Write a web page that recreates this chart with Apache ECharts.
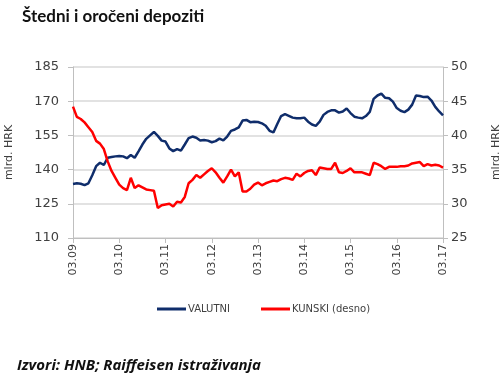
<!DOCTYPE html>
<html>
<head>
<meta charset="utf-8">
<script src="https://cdn.jsdelivr.net/npm/echarts@6/dist/echarts.min.js"></script>
<style>
  html, body { margin: 0; padding: 0; background: #fff; }
  #chart { width: 500px; height: 376px; }
</style>
</head>
<body>
<div id="chart"></div>
<script>
// monthly data, 03.09 - 03.17
var yearLabels = ['09', '10', '11', '12', '13', '14', '15', '16', '17'];

var valutni = [
  133.7, 134, 133.8, 133.2, 134, 137.5, 141.5, 143, 142, 145.2,
  145.5, 145.8, 146, 145.8, 145, 146.4, 145.2, 148, 151, 153.5,
  155, 156.5, 154.8, 152.7, 152.3, 149.3, 148.1, 149, 148.3, 151,
  153.8, 154.5, 154, 152.8, 153, 152.7, 152, 152.5, 153.6, 152.8,
  154.5, 157, 157.6, 158.5, 161.5, 161.8, 160.8, 161, 160.9, 160.3,
  159.2, 157, 156.3, 160, 163.5, 164.3, 163.6, 162.8, 162.5, 162.5,
  162.8, 161, 159.8, 159.2, 161, 164, 165.3, 166, 166, 165,
  165.5, 166.8, 164.8, 163.2, 162.8, 162.5, 163.5, 165.3, 171, 172.5,
  173.3, 171.5, 171.3, 169.8, 167, 165.8, 165.2, 166.3, 168.5, 172.5,
  172.3, 171.8, 172, 170.3, 167.5, 165.5, 163.8
];

var kunski = [
  44.2, 42.7, 42.4, 41.9, 41.2, 40.5, 39.2, 38.8, 38.0, 36.2,
  34.8, 33.8, 32.8, 32.3, 32.0, 33.8, 32.3, 32.7, 32.4, 32.1,
  32.0, 31.9, 29.4, 29.8, 29.9, 30.0, 29.6, 30.3, 30.2, 31.0,
  33.0, 33.5, 34.2, 33.8, 34.3, 34.8, 35.2, 34.6, 33.8, 33.1,
  34.0, 35.0, 34.0, 34.6, 31.8, 31.8, 32.2, 32.8, 33.1, 32.7,
  33.0, 33.2, 33.4, 33.3, 33.6, 33.8, 33.7, 33.5, 34.4, 34.0,
  34.5, 34.8, 34.9, 34.2, 35.3, 35.2, 35.1, 35.1, 36.0, 34.6,
  34.5, 34.8, 35.2, 34.6, 34.6, 34.6, 34.4, 34.2, 36.0, 35.8,
  35.5, 35.1, 35.4, 35.4, 35.4, 35.5, 35.5, 35.6, 35.9, 36.0,
  36.1, 35.5, 35.8, 35.6, 35.7, 35.6, 35.3
];

var months = [];
for (var i = 0; i < valutni.length; ++i) {
  var m = (i + 2) % 12 + 1;
  var y = yearLabels[Math.floor((i + 2) / 12)];
  months.push((m < 10 ? '0' : '') + m + '.' + y);
}

var textColor = '#404040';
var lineGray = '#bfbfbf';
var fontFamily = 'DejaVu Sans';

var chart = echarts.init(document.getElementById('chart'), null, {renderer: 'canvas'});

chart.setOption({
  animation: false,
  backgroundColor: '#fff',
  textStyle: {fontFamily: fontFamily},
  title: {
    text: 'Štedni i oročeni depoziti',
    left: 17,
    top: 3,
    textStyle: {
      fontFamily: 'Lato',
      fontWeight: 'bold',
      fontSize: 17,
      color: '#111'
    }
  },
  graphic: [{
    type: 'text',
    left: 17,
    top: 358,
    style: {
      text: 'Izvori: HNB; Raiffeisen istraživanja',
      font: 'italic bold 15px "Open Sans"',
      fill: '#111'
    }
  }],
  legend: {
    top: 299,
    left: 152,
    itemGap: 31,
    itemWidth: 29,
    itemHeight: 3,
    icon: 'rect',
    textStyle: {fontSize: 10, color: textColor, fontFamily: fontFamily, padding: [0, 0, 0, -3]},
    data: ['VALUTNI', 'KUNSKI (desno)']
  },
  grid: {
    left: 73,
    right: 57,
    top: 67,
    bottom: 138,
    outerBoundsMode: 'none'
  },
  xAxis: {
    type: 'category',
    data: months,
    boundaryGap: false,
    axisLine: {lineStyle: {color: lineGray, width: 1}},
    axisTick: {show: true, interval: 11, length: 5, lineStyle: {color: lineGray}},
    axisLabel: {
      interval: 11,
      rotate: 90,
      fontSize: 11,
      color: textColor,
      margin: 6
    },
    splitLine: {show: false}
  },
  yAxis: [{
    type: 'value',
    min: 110,
    max: 185,
    interval: 15,
    name: 'mlrd. HRK',
    nameLocation: 'middle',
    nameRotate: 90,
    nameGap: 58,
    nameTextStyle: {fontSize: 11, color: textColor},
    axisLine: {show: true, lineStyle: {color: lineGray}},
    axisTick: {show: true, length: 5, lineStyle: {color: lineGray}},
    axisLabel: {fontSize: 13, color: textColor, margin: 14},
    splitLine: {lineStyle: {color: '#d9d9d9', width: 1.5}}
  }, {
    type: 'value',
    min: 25,
    max: 50,
    interval: 5,
    position: 'right',
    name: 'mlrd. HRK',
    nameLocation: 'middle',
    nameRotate: 90,
    nameGap: 48,
    nameTextStyle: {fontSize: 11, color: textColor},
    axisLine: {show: true, lineStyle: {color: lineGray}},
    axisTick: {show: true, length: 5, lineStyle: {color: lineGray}},
    axisLabel: {fontSize: 13, color: textColor, margin: 8},
    splitLine: {show: false}
  }],
  series: [{
    name: 'VALUTNI',
    type: 'line',
    yAxisIndex: 0,
    data: valutni,
    showSymbol: false,
    color: '#0f2d6b',
    lineStyle: {width: 2.5, color: '#0f2d6b'}
  }, {
    name: 'KUNSKI (desno)',
    type: 'line',
    yAxisIndex: 1,
    data: kunski,
    showSymbol: false,
    color: '#ff0000',
    lineStyle: {width: 2.5, color: '#ff0000'}
  }]
});
</script>
</body>
</html>
